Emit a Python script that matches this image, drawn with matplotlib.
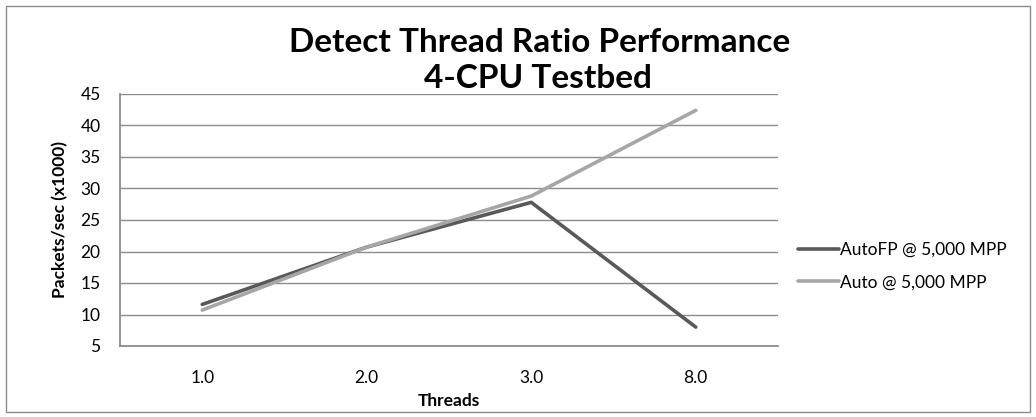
import matplotlib.pyplot as plt
from matplotlib.patches import Rectangle

# data
threads = ["1.0", "2.0", "3.0", "8.0"]
autofp = [11.6, 20.7, 27.8, 8.0]
auto = [10.7, 20.7, 28.8, 42.4]
yticks = [5, 10, 15, 20, 25, 30, 35, 40, 45]

plt.rcParams['font.family'] = ['Lato', 'DejaVu Sans']

fig = plt.figure(figsize=(10.36, 4.17), dpi=100)
W, H = 1036, 417
# plot area in pixels: left 120, right 778, top 94, bottom 346
ax = fig.add_axes([120 / W, 1 - 346 / H, (778 - 120) / W, (346 - 94) / H])

# outer chart border
fig.patches.append(Rectangle((6 / W, 5 / H), 1024 / W, 406 / H, transform=fig.transFigure,
                             fill=False, edgecolor='#8c8c8c', linewidth=1.0))

x = range(len(threads))
ax.plot(x, autofp, color='#595959', linewidth=2.6, solid_capstyle='round',
        label='AutoFP @ 5,000 MPP', zorder=3)
ax.plot(x, auto, color='#a6a6a6', linewidth=2.6, solid_capstyle='round',
        label='Auto @ 5,000 MPP', zorder=3)

ax.set_xlim(-0.5, len(threads) - 0.5)
ax.set_ylim(5, 45)
ax.set_yticks(yticks)
ax.set_xticks(list(x))
ax.set_xticklabels(threads)
ax.yaxis.grid(True, color='#8c8c8c', linewidth=1.0)
ax.set_axisbelow(True)
for side in ['top', 'right']:
    ax.spines[side].set_visible(False)
for side in ['left', 'bottom']:
    ax.spines[side].set_color('#8c8c8c')
    ax.spines[side].set_linewidth(1.3)
ax.tick_params(axis='both', length=0, labelsize=12.5, colors='black')
ax.tick_params(axis='y', pad=14)
ax.tick_params(axis='x', pad=17)

ax.set_xlabel('Threads', fontsize=12.5, fontweight='bold', labelpad=5)
ax.set_ylabel('Packets/sec (x1000)', fontsize=12.5, fontweight='bold', labelpad=9)

fig.text(540 / W, 1 - 42 / H, 'Detect Thread Ratio Performance', ha='center', va='center',
         fontsize=24, fontweight='bold')
fig.text(538 / W, 1 - 78 / H, '4-CPU Testbed', ha='center', va='center',
         fontsize=24, fontweight='bold')

fig.legend(loc='center left', bbox_to_anchor=(782 / W, 1 - 266 / H), frameon=False,
           fontsize=12.5, handlelength=2.4, handletextpad=0.05, labelspacing=0.95)

fig.savefig('out.png', dpi=100)
